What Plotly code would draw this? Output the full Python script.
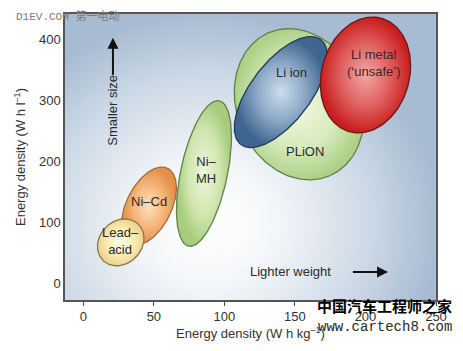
import numpy as np
import plotly.graph_objects as go

# ---- data ----
batteries = ["Ni-Cd", "Lead-acid", "Ni-MH", "PLiON", "Li ion", "Li metal"]
labels = ["Ni–Cd", "Lead–<br>acid", "Ni–<br>MH", "PLiON", "Li ion", "Li metal<br>(‘unsafe’)"]
wh_kg_min = [27, 10, 66, 107, 107, 168]
wh_kg_max = [66, 43, 105, 199, 173, 232]
wh_l_min = [63, 29, 61, 170, 223, 247]
wh_l_max = [191, 106, 300, 418, 405, 437]
tilt_deg = [62, 80, 60, 99, 50, 81]  # phase between x and y extents (90 = untilted)

x_ticks = [0, 50, 100, 150, 200, 250]
y_ticks = [0, 100, 200, 300, 400]

# ---- styles ----
fill_scales = [
    [[0, "#fde0bf"], [0.55, "#f6b67a"], [1, "#e58f48"]],
    [[0, "#fffbe6"], [0.6, "#f9ebb4"], [1, "#eed48a"]],
    [[0, "#eef6df"], [0.6, "#cfe5ad"], [1, "#a6cc7c"]],
    [[0, "#f1f8e2"], [0.6, "#d6eabb"], [1, "#aed188"]],
    [[0, "#cddded"], [0.5, "#8eaac8"], [1, "#3f6690"]],
    [[0, "#f0a8a4"], [0.55, "#e06060"], [1, "#c81e1e"]],
]
line_colors = ["#a26c3c", "#857650", "#5f8048", "#5f8048", "#24385a", "#6e1414"]
label_shift = [(0, 5), (0, 1), (3, 3), (6, -47), (11, 20), (8, 12)]
label_colors = ["#2b2b2b", "#2b2b2b", "#2b2b2b", "#2b2b2b", "#2b2b2b", "#4a2222"]

fig = go.Figure()

# background gradient panel
fig.add_trace(go.Scatter(
    x=[-75, 252, 252, -75, -75], y=[-250, -250, 444, 444, -250],
    mode="lines", line=dict(width=0), fill="toself",
    fillgradient=dict(type="radial",
                      colorscale=[[0, "#ffffff"], [0.3, "#f3f6f9"], [0.7, "#cdd9e6"], [1, "#a7bbd2"]]),
    hoverinfo="skip", showlegend=False))

t = np.linspace(0, 2 * np.pi, 241)
for i, name in enumerate(batteries):
    cx = (wh_kg_min[i] + wh_kg_max[i]) / 2
    cy = (wh_l_min[i] + wh_l_max[i]) / 2
    rx = (wh_kg_max[i] - wh_kg_min[i]) / 2
    ry = (wh_l_max[i] - wh_l_min[i]) / 2
    d = np.radians(tilt_deg[i])
    xs = cx + rx * np.cos(t)
    ys = cy + ry * np.cos(t - d)
    fig.add_trace(go.Scatter(
        x=xs, y=ys, mode="lines", fill="toself", name=name,
        line=dict(color=line_colors[i], width=1.3),
        fillgradient=dict(type="radial", colorscale=fill_scales[i]),
        hoverinfo="name", showlegend=False))
    fig.add_annotation(x=cx, y=cy, text=labels[i], showarrow=False,
                       xshift=label_shift[i][0], yshift=label_shift[i][1],
                       font=dict(family="Arial", size=13, color=label_colors[i]))

# direction arrows
fig.add_annotation(x=21, y=403, ax=21, ay=340, xref="x", yref="y", axref="x", ayref="y",
                   text="", showarrow=True, arrowhead=2, arrowsize=1.1, arrowwidth=2,
                   arrowcolor="#111")
fig.add_annotation(x=21, y=285, text="Smaller size", textangle=-90, showarrow=False,
                   font=dict(family="Arial", size=13, color="#2b2b2b"))
fig.add_annotation(x=216, y=19, ax=190, ay=19, xref="x", yref="y", axref="x", ayref="y",
                   text="", showarrow=True, arrowhead=2, arrowsize=1.1, arrowwidth=2,
                   arrowcolor="#111")
fig.add_annotation(x=146.5, y=19, text="Lighter weight", showarrow=False,
                   font=dict(family="Arial", size=13, color="#2b2b2b"))

# watermarks
fig.add_annotation(xref="paper", yref="paper", x=-0.137, y=0.993, xanchor="left", yanchor="middle",
                   text="D1EV.COM 第一电动", showarrow=False,
                   font=dict(family="Liberation Mono, Noto Sans CJK SC", size=11, color="#7a7a7a"))
fig.add_annotation(xref="paper", yref="paper", x=0.862, y=-0.02, xanchor="center", yanchor="middle",
                   text="<b>中国汽车工程师之家</b>", showarrow=False,
                   font=dict(family="Noto Sans CJK SC", size=15, color="#000000"))
fig.add_annotation(xref="paper", yref="paper", x=0.862, y=-0.096, xanchor="center", yanchor="middle",
                   text="www.cartech8.com", showarrow=False,
                   font=dict(family="Liberation Mono", size=14, color="#2a2a2a"))

fig.update_layout(
    width=463, height=351,
    margin=dict(l=65, r=27, t=14, b=44),
    paper_bgcolor="white", plot_bgcolor="#e4eaf1",
    font=dict(family="Arial", size=13, color="#333"),
    xaxis=dict(range=[-13, 250], tickvals=x_ticks, ticks="outside", ticklen=4,
               tickcolor="#444", showline=True, linecolor="#555", linewidth=1.5,
               mirror=True, showgrid=False, zeroline=False,
               tickfont=dict(size=13, color="#333"),
               title=dict(text="Energy density (W h kg<sup>–1</sup>)", standoff=6,
                          font=dict(size=13, color="#333"))),
    yaxis=dict(range=[-27, 442], tickvals=y_ticks, ticks="", showline=True,
               linecolor="#555", linewidth=1.5, mirror=True, showgrid=False,
               zeroline=False, tickfont=dict(size=13, color="#333"),
               title=dict(text="Energy density (W h l<sup>–1</sup>)", standoff=10,
                          font=dict(size=13, color="#333"))),
)

fig.write_html("out.html")
